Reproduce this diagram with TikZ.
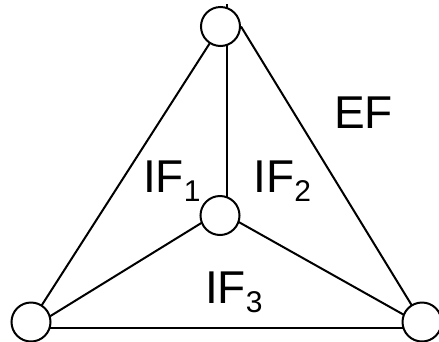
\documentclass[tikz,border=0pt]{standalone}
\usepackage{fontspec}
\setmainfont{Liberation Sans}
\usetikzlibrary{backgrounds}
\tikzset{every picture/.style={line width=2pt}}
\newcommand{\faceidx}[1]{\raisebox{-9pt}{\fontsize{30}{30}\selectfont #1}}

\begin{document}
\begin{tikzpicture}[x=1pt,y=-1pt,
  vertex/.style={circle,draw,fill=white,minimum size=39pt,inner sep=0pt},
  edge/.style={line width=2pt},
  face/.style={anchor=base west,inner sep=0pt,font=\fontsize{46}{50}\selectfont}]
\useasboundingbox (0,0) rectangle (439,341);

% vertices
\node[vertex] (top) at (220.5,26.5) {};
\node[vertex] (mid) at (220,215.5) {};
\node[vertex] (bl) at (31,322) {};
\node[vertex] (br) at (422,322) {};
\coordinate (tick) at (227,4);

% edges
\begin{scope}[on background layer]
\draw[edge] (bl.center) -- (top.center);
\draw[edge] (top.east) -- (br.center);
\draw[edge] ([yshift=-6pt]bl.center) -- ([yshift=-6pt]br.center);
\draw[edge] ([yshift=4pt]mid.center) -- ([yshift=-6pt]bl.center);
\draw[edge] ([yshift=4pt]mid.center) -- ([yshift=-3pt]br.center);
\draw[edge,line width=1.5pt] (tick) -- ([xshift=7pt]mid.center);
\end{scope}

% faces
\node[face] (ef) at (333,128.3) {EF};
\node[face] (if1) at (142,192.7) {IF\faceidx{1}};
\node[face] (if2) at (252.4,192.7) {IF\faceidx{2}};
\node[face] (if3) at (204,303.3) {IF\faceidx{3}};

\end{tikzpicture}
\end{document}
